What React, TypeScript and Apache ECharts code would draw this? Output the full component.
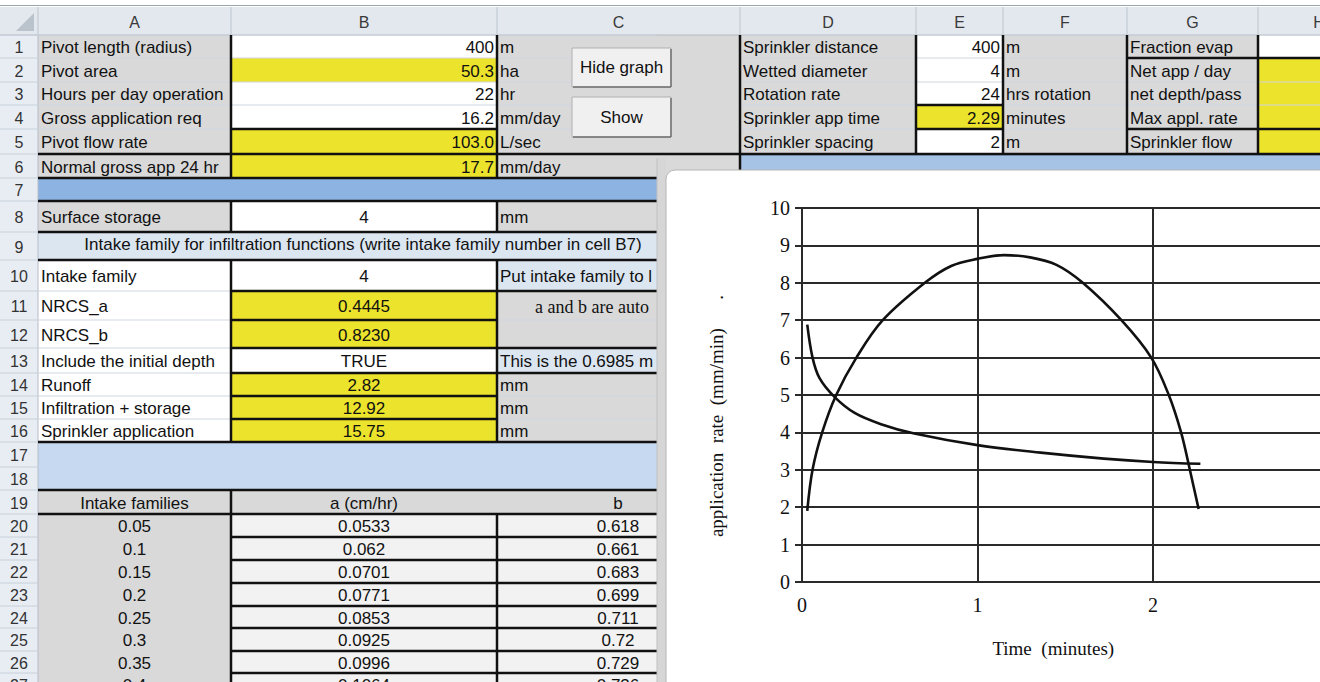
import React, { useEffect, useRef } from "react";
import * as echarts from "echarts";

// ---------------- DATA ----------------
const columnLetters = ["A", "B", "C", "D", "E", "F", "G", "H"];
const rowNumbers = ["1", "2", "3", "4", "5", "6", "7", "8", "9", "10", "11", "12", "13", "14", "15", "16", "17", "18", "19", "20", "21", "22", "23", "24", "25", "26", "27"];
const pivotLabels = ["Pivot length (radius)", "Pivot area", "Hours per day operation", "Gross application req", "Pivot flow rate", "Normal gross app 24 hr"];
const pivotValues = ["400", "50.3", "22", "16.2", "103.0", "17.7"];
const pivotUnits = ["m", "ha", "hr", "mm/day", "L/sec", "mm/day"];
const buttonLabels = ["Hide graph", "Show"];
const sprinklerLabels = ["Sprinkler distance", "Wetted diameter", "Rotation rate", "Sprinkler app time", "Sprinkler spacing"];
const sprinklerValues = ["400", "4", "24", "2.29", "2"];
const sprinklerUnits = ["m", "m", "hrs rotation", "minutes", "m"];
const resultLabels = ["Fraction evap", "Net app / day", "net depth/pass", "Max appl. rate", "Sprinkler flow"];
const storageRow = ["Surface storage", "4", "mm"];
const intakeTitle = "Intake family for infiltration functions (write intake family number in cell B7)";
const infiltrationLabels = ["Intake family", "NRCS_a", "NRCS_b", "Include the initial depth", "Runoff", "Infiltration + storage", "Sprinkler application"];
const infiltrationValues = ["4", "0.4445", "0.8230", "TRUE", "2.82", "12.92", "15.75"];
const infiltrationNotes = ["Put intake family to l", "a and b are auto", "", "This is the 0.6985 m", "mm", "mm", "mm"];
const tableHeaders = ["Intake families", "a (cm/hr)", "b"];
const intakeFamilies = ["0.05", "0.1", "0.15", "0.2", "0.25", "0.3", "0.35", "0.4"];
const intakeA = ["0.0533", "0.062", "0.0701", "0.0771", "0.0853", "0.0925", "0.0996", "0.1064"];
const intakeB = ["0.618", "0.661", "0.683", "0.699", "0.711", "0.72", "0.729", "0.736"];

// sprinkler application rate (mm/min) vs time (minutes)
const sprinklerRate: [number, number][] = [
  [0.03, 1.9], [0.06, 3.0], [0.115, 4.0], [0.195, 5.0], [0.31, 6.0], [0.46, 7.0], [0.7, 8.0],
  [0.85, 8.45], [1.0, 8.64], [1.15, 8.74], [1.3, 8.68], [1.45, 8.48], [1.6, 8.0], [1.82, 7.0],
  [1.99, 6.0], [2.09, 5.0], [2.16, 4.0], [2.21, 3.0], [2.26, 1.95],
];
// infiltration rate (mm/min) vs time (minutes)
const infiltrationRate: [number, number][] = [
  [0.03, 6.88], [0.06, 6.0], [0.1, 5.45], [0.185, 4.95], [0.3, 4.52], [0.45, 4.22], [0.64, 3.97],
  [1.0, 3.66], [1.36, 3.46], [1.72, 3.3], [2.0, 3.21], [2.27, 3.16],
];
const xAxisTitle = "Time  (minutes)";
const yAxisTitle = "application  rate  (mm/min)      .";

// ---------------- LAYOUT / STYLE ----------------
const SANS = "'Liberation Sans', Arial, sans-serif";
const SERIF = "'Liberation Serif', 'Times New Roman', serif";
const COLS = [0, 38, 231, 497, 740, 916, 1003, 1127, 1258, 1380];
const ROWS = [35, 58, 82, 105, 129, 154, 178, 201, 232, 260, 291, 320, 348, 373, 396, 419, 442, 467, 490, 514, 537, 560, 583, 606, 628, 651, 673, 696];
const W = "#ffffff";
const Y = "#ece32c";
const GR = "#d9d9d9";
const BLUE = "#8db3e2";
const LBLUE = "#dce6f1";
const LBLUE2 = "#c6d9f1";
const PALE = "#f2f2f2";
const INK = "#111111";
const pivotFills = [W, Y, W, W, Y, Y];
const sprinklerFills = [W, W, W, Y, W];
const resultFills = [W, Y, Y, Y, Y];
const infilFills = [W, Y, Y, W, Y, Y, Y];
const noteFills = [LBLUE, GR, GR, LBLUE, GR, GR, GR];
const STRIP_X = 657;
const PLOT_LEFT = 802;
const PX_PER_MIN = 175.5;
const CANVAS_W = 1350; // wider than the visible page; the outer box clips it at 1320
const X_MAX = 3;

const top = (r: number) => ROWS[r - 1];
const bot = (r: number) => ROWS[r];
const mid = (r: number) => (ROWS[r - 1] + ROWS[r]) / 2 + 1;
const colL = (c: number) => COLS[c];
const colR = (c: number) => COLS[c + 1];
const colMid = (c: number) => (COLS[c] + COLS[c + 1]) / 2;

function buildGraphics() {
  const els: any[] = [];
  const rect = (x: number, y: number, w: number, h: number, fill: string, z = 1, extra: any = {}) =>
    els.push({ type: "rect", silent: true, z, shape: { x, y, width: w, height: h, ...(extra.shape || {}) }, style: { fill, ...(extra.style || {}) } });
  const line = (x1: number, y1: number, x2: number, y2: number, stroke: string, lw: number, z: number) =>
    els.push({ type: "line", silent: true, z, shape: { x1, y1, x2, y2 }, style: { stroke, lineWidth: lw } });
  const thick = (x1: number, y1: number, x2: number, y2: number) => line(x1, y1, x2, y2, "#111", 2.5, 3);
  const thin = (x1: number, y1: number, x2: number, y2: number) => line(x1, y1, x2, y2, "#cfd5de", 1, 2);
  const text = (x: number, y: number, t: string, align = "left", size = 17, family = SANS, fill = INK, z = 4) =>
    els.push({
      type: "text", silent: true, z, x, y,
      style: { text: t, fill, font: `${size}px ${family}`, align, verticalAlign: "middle", textAlign: align, textVerticalAlign: "middle" },
    });
  const cell = (c: number, r: number, fill: string) => rect(colL(c), top(r), colR(c) - colL(c), bot(r) - top(r), fill, 1);

  // page background
  rect(0, 0, CANVAS_W, 682, "#ffffff", 0);
  line(0, 5.5, CANVAS_W, 5.5, "#9aa3ae", 1, 2);
  // column header
  rect(0, 7, CANVAS_W, 28, "#e3e8ee", 1);
  line(0, 35, CANVAS_W, 35, "#b4bcc7", 1, 2);
  for (let c = 1; c <= 8; c++) line(COLS[c], 7, COLS[c], 35, "#bcc4ce", 1, 2);
  columnLetters.forEach((l, i) => text(i === 7 ? 1319 : colMid(i + 1), 22, l, "center", 16, SANS, "#3a3a3a"));
  els.push({ type: "polygon", silent: true, z: 2, shape: { points: [[34, 13], [34, 31], [16, 31]] }, style: { fill: "#bac2cc" } });
  // row header
  rect(0, 35, 38, 647, "#e8edf3", 1);
  line(38, 35, 38, 682, "#b4bcc7", 1, 2);
  for (let r = 0; r < ROWS.length; r++) line(0, ROWS[r], 38, ROWS[r], "#c8d0da", 1, 2);
  rowNumbers.forEach((n, i) => text(19, mid(i + 1), n, "center", 16, SANS, "#333"));

  // rows 1-6 (A-C)
  pivotLabels.forEach((_, i) => { cell(1, i + 1, GR); cell(2, i + 1, pivotFills[i]); cell(3, i + 1, GR); });
  // rows 1-5 (D-H)
  sprinklerLabels.forEach((_, i) => {
    cell(4, i + 1, GR); cell(5, i + 1, sprinklerFills[i]); cell(6, i + 1, GR); cell(7, i + 1, GR); cell(8, i + 1, resultFills[i]);
  });
  rect(740, 154, CANVAS_W - 740, 16, "#a6c3e6", 1);
  line(740, 155, CANVAS_W, 155, "#7f9fc8", 1, 2);
  // row 7
  rect(38, top(7), STRIP_X - 38, bot(7) - top(7), BLUE, 1);
  // row 8
  cell(1, 8, GR); cell(2, 8, W); cell(3, 8, GR);
  // row 9
  rect(38, top(9), STRIP_X - 38, bot(9) - top(9), LBLUE, 1);
  // rows 10-16
  infiltrationLabels.forEach((_, i) => { cell(1, 10 + i, W); cell(2, 10 + i, infilFills[i]); cell(3, 10 + i, noteFills[i]); });
  // rows 17-18
  rect(38, top(17), STRIP_X - 38, bot(18) - top(17), LBLUE2, 1);
  // row 19
  cell(1, 19, GR); cell(2, 19, GR); cell(3, 19, GR);
  // rows 20+
  intakeFamilies.forEach((_, i) => { cell(1, 20 + i, GR); cell(2, 20 + i, PALE); cell(3, 20 + i, PALE); });

  // thin grid lines
  for (let r = 0; r <= 16; r++) if (r !== 7 && r !== 8) thin(38, ROWS[r], STRIP_X, ROWS[r]);
  for (let r = 0; r <= 5; r++) thin(740, ROWS[r], CANVAS_W, ROWS[r]);
  [231, 497].forEach((x) => { thin(x, 35, x, 178); thin(x, 201, x, 232); thin(x, 260, x, 442); });
  [916, 1003, 1127, 1258].forEach((x) => thin(x, 35, x, 154));

  // thick borders
  [231, 497].forEach((x) => { thick(x, 35, x, 178); thick(x, 201, x, 232); thick(x, 260, x, 442); });
  thick(231, 490, 231, 682);
  thick(497, 514, 497, 682);
  thick(740, 35, 740, 170);
  [916, 1003, 1127, 1258].forEach((x) => thick(x, 35, x, 154));
  thick(231, 129, 497, 129);
  thick(916, 105, 1003, 105); thick(916, 129, 1003, 129);
  thick(1127, 58, CANVAS_W, 58); thick(1127, 129, CANVAS_W, 129);
  thick(38, 154, CANVAS_W, 154);
  [178, 201, 232, 260, 442, 490, 514].forEach((y) => thick(38, y, STRIP_X, y));
  [291, 348, 373].forEach((y) => thick(231, y, STRIP_X, y));
  [320, 396, 419].forEach((y) => thick(231, y, 497, y));
  [537, 560, 583, 606, 628, 651, 673].forEach((y) => thick(231, y, STRIP_X, y));

  // texts rows 1-6
  pivotLabels.forEach((t, i) => {
    text(41, mid(i + 1), t);
    text(494, mid(i + 1), pivotValues[i], "right");
    text(500, mid(i + 1), pivotUnits[i]);
  });
  sprinklerLabels.forEach((t, i) => {
    text(743, mid(i + 1), t);
    text(1000, mid(i + 1), sprinklerValues[i], "right");
    text(1006, mid(i + 1), sprinklerUnits[i]);
    text(1130, mid(i + 1), resultLabels[i]);
  });
  // buttons
  const buttons = [[572, 48, 99, 39], [572, 97, 99, 40]];
  buttons.forEach(([x, y, w, h], i) => {
    rect(x, y, w, h, "#f0f0f0", 5, { style: { stroke: "#b0b0b0", lineWidth: 1 } });
    line(x + 1, y + h, x + w, y + h, "#707070", 1.5, 5);
    line(x + w, y + 1, x + w, y + h, "#707070", 1.5, 5);
    text(x + w / 2, y + h / 2, buttonLabels[i], "center", 17, SANS, INK, 6);
  });
  // row 8
  text(41, mid(8), storageRow[0]);
  text(colMid(2), mid(8), storageRow[1], "center");
  text(500, mid(8), storageRow[2]);
  // row 9
  text(363, mid(9) - 3, intakeTitle, "center");
  // rows 10-16
  infiltrationLabels.forEach((t, i) => {
    text(41, mid(10 + i), t);
    text(colMid(2), mid(10 + i), infiltrationValues[i], "center");
    if (i === 1) text(535, mid(10 + i), infiltrationNotes[i], "left", 18, SERIF);
    else if (infiltrationNotes[i]) text(500, mid(10 + i), infiltrationNotes[i]);
  });
  // row 19
  text(colMid(1), mid(19), tableHeaders[0], "center");
  text(colMid(2), mid(19), tableHeaders[1], "center");
  text(618, mid(19), tableHeaders[2], "center");
  intakeFamilies.forEach((t, i) => {
    text(colMid(1), mid(20 + i), t, "center");
    text(colMid(2), mid(20 + i), intakeA[i], "center");
    text(618, mid(20 + i), intakeB[i], "center");
  });

  // chart object frame
  rect(STRIP_X, 158, 9, 530, "#d6d6d6", 8);
  line(STRIP_X, 158, STRIP_X, 682, "#c0c0c0", 1, 8);
  rect(666, 170, CANVAS_W - 666 + 10, 530, "#ffffff", 9, { shape: { r: [9, 0, 0, 0] }, style: { stroke: "#b5b5b5", lineWidth: 1 } });
  return els;
}

export default function App() {
  const ref = useRef<HTMLDivElement>(null);
  useEffect(() => {
    if (!ref.current) return;
    const chart = echarts.init(ref.current, undefined, { renderer: "svg" });
    const labelStyle = { color: INK, fontSize: 20, fontFamily: SERIF };
    const gridLine = { color: "#2a2a2a", width: 2 };
    chart.setOption({
      animation: false,
      graphic: { elements: buildGraphics() },
      grid: { left: PLOT_LEFT, top: 208, width: PX_PER_MIN * X_MAX, height: 374, containLabel: false },
      xAxis: {
        type: "value", min: 0, max: X_MAX, interval: 1, z: 20,
        axisLine: { show: true, lineStyle: gridLine },
        axisTick: { show: false },
        axisLabel: { ...labelStyle, margin: 13, formatter: (v: number) => (v < 3 ? String(v) : "") },
        splitLine: { show: true, lineStyle: gridLine },
        name: xAxisTitle, nameLocation: "middle", nameGap: 57,
        nameTextStyle: { color: INK, fontSize: 19, fontFamily: SERIF, padding: [0, 24, 0, 0] },
      },
      yAxis: {
        type: "value", min: 0, max: 10, interval: 1, z: 20,
        axisLine: { show: true, lineStyle: gridLine },
        axisTick: { show: true, length: 7, lineStyle: gridLine },
        axisLabel: { ...labelStyle, margin: 12 },
        splitLine: { show: true, lineStyle: gridLine },
        name: yAxisTitle, nameLocation: "middle", nameGap: 76,
        nameTextStyle: { color: INK, fontSize: 19, fontFamily: SERIF, padding: [0, 42, 0, 0] },
      },
      series: [
        { type: "line", data: sprinklerRate, smooth: 0.35, symbol: "none", z: 21, lineStyle: { color: "#111", width: 2.6 } },
        { type: "line", data: infiltrationRate, smooth: 0.35, symbol: "none", z: 21, lineStyle: { color: "#111", width: 2.6 } },
      ],
    });
    return () => chart.dispose();
  }, []);
  return (
    <div style={{ position: "absolute", left: 0, top: 0, width: 1320, height: 682, overflow: "hidden" }}>
      <div ref={ref} style={{ width: CANVAS_W, height: 682 }} />
    </div>
  );
}
